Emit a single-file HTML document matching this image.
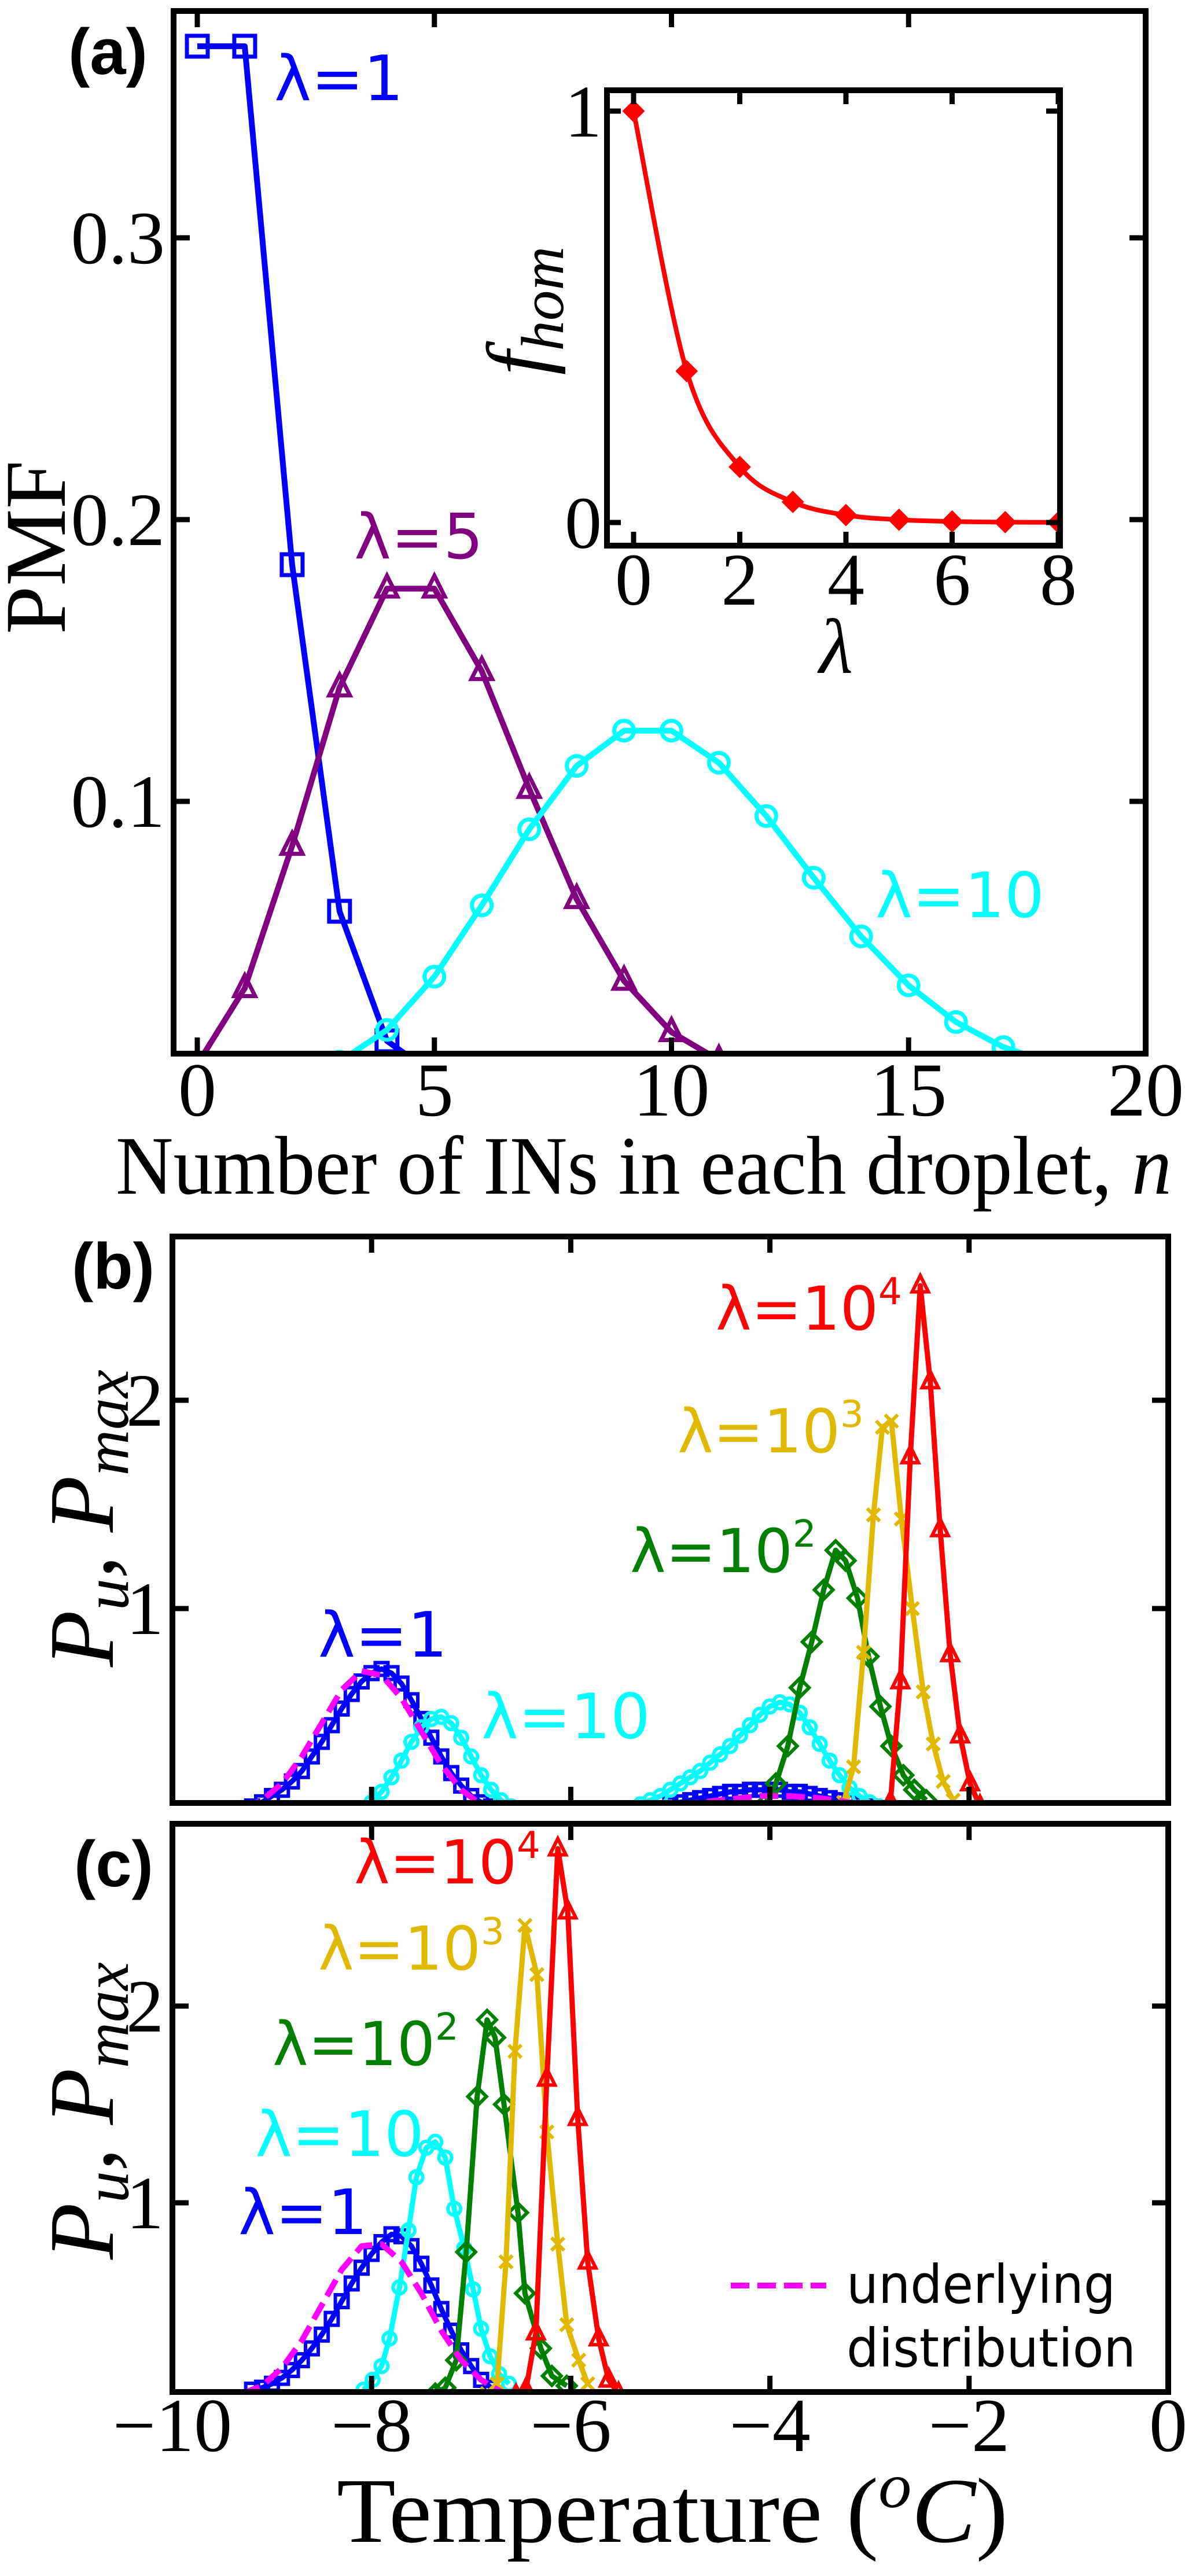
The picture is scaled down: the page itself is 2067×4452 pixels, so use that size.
<!DOCTYPE html>
<html><head><meta charset="utf-8">
<style>
html,body{margin:0;padding:0;background:#fff;}
svg{display:block;}
.serif{font-family:"Liberation Serif",serif;}
.sans{font-family:"DejaVu Sans","Liberation Sans",sans-serif;}
</style></head>
<body>
<svg id="fig" width="2067" height="4452" viewBox="0 0 2067 4452" xmlns="http://www.w3.org/2000/svg">
<defs>
<clipPath id="clipA"><rect x="300" y="19" width="1680" height="1802"/></clipPath>
<clipPath id="clipIn"><rect x="1049" y="156" width="783" height="787"/></clipPath>
<clipPath id="clipB"><rect x="298" y="2137" width="1721" height="979"/></clipPath>
<clipPath id="clipC"><rect x="298" y="3152" width="1721" height="982"/></clipPath>
</defs>
<g id="layer"></g>

<text x="118" y="128" font-family="Liberation Sans, sans-serif" font-weight="bold" font-size="112">(a)</text>
<text x="124" y="2227" font-family="Liberation Sans, sans-serif" font-weight="bold" font-size="112">(b)</text>
<text x="128" y="3260" font-family="Liberation Sans, sans-serif" font-weight="bold" font-size="112">(c)</text>

<text class="serif" transform="translate(112,946) rotate(-90)" text-anchor="middle" font-size="150">PMF</text>
<text class="serif" x="200" y="2063" font-size="144" textLength="1825" lengthAdjust="spacingAndGlyphs">Number of INs in each droplet, <tspan font-style="italic">n</tspan></text>

<text class="serif" transform="translate(945,537) rotate(-90)" text-anchor="middle" font-size="150" font-style="italic">f<tspan font-size="105" dy="28">hom</tspan></text>
<text class="serif" x="1445" y="1163" text-anchor="middle" font-size="135" font-style="italic">λ</text>

<text class="serif" transform="translate(195,2624) rotate(-90)" text-anchor="middle" font-size="160" font-style="italic">P<tspan font-size="110" dy="26">u</tspan><tspan dy="-26">, P</tspan><tspan font-size="110" dy="26">max</tspan></text>
<text class="serif" transform="translate(195,3648) rotate(-90)" text-anchor="middle" font-size="160" font-style="italic">P<tspan font-size="110" dy="26">u</tspan><tspan dy="-26">, P</tspan><tspan font-size="110" dy="26">max</tspan></text>
<text class="serif" x="1162" y="4393" text-anchor="middle" font-size="160" textLength="1160" lengthAdjust="spacingAndGlyphs">Temperature (<tspan font-style="italic" font-size="110" dy="-60">o</tspan><tspan font-style="italic" dy="60">C</tspan>)</text>

<text class="sans" x="474" y="173" font-size="108" fill="#0000ff">λ=1</text>
<text class="sans" x="612" y="965" font-size="108" fill="#800080">λ=5</text>
<text class="sans" x="1513" y="1585" font-size="108" fill="#00ffff">λ=10</text>

<text class="sans" x="1237" y="2298" font-size="104" fill="#ff0000">λ=10<tspan font-size="64" dy="-44">4</tspan></text>
<text class="sans" x="1171" y="2510" font-size="104" fill="#e0b800">λ=10<tspan font-size="64" dy="-44">3</tspan></text>
<text class="sans" x="1089" y="2717" font-size="104" fill="#007f00">λ=10<tspan font-size="64" dy="-44">2</tspan></text>
<text class="sans" x="550" y="2863" font-size="108" fill="#0000ff">λ=1</text>
<text class="sans" x="832" y="3004" font-size="108" fill="#00ffff">λ=10</text>

<text class="sans" x="612" y="3255" font-size="104" fill="#ff0000">λ=10<tspan font-size="64" dy="-44">4</tspan></text>
<text class="sans" x="550" y="3404" font-size="104" fill="#e0b800">λ=10<tspan font-size="64" dy="-44">3</tspan></text>
<text class="sans" x="471" y="3569" font-size="104" fill="#007f00">λ=10<tspan font-size="64" dy="-44">2</tspan></text>
<text class="sans" x="441" y="3726" font-size="108" fill="#00ffff">λ=10</text>
<text class="sans" x="412" y="3861" font-size="108" fill="#0000ff">λ=1</text>

<g>
<line x1="1263" y1="3950" x2="1428" y2="3950" stroke="#ff00ff" stroke-width="10" stroke-dasharray="32,14"/>
<text class="sans" x="1463" y="3980" font-size="92" textLength="465" lengthAdjust="spacingAndGlyphs">underlying</text>
<text class="sans" x="1463" y="4090" font-size="92" textLength="500" lengthAdjust="spacingAndGlyphs">distribution</text>
</g>
</svg>

<script>
// ---------- data ----------
const nA = [0,1,2,3,4,5,6,7,8,9,10,11,12,13,14,15,16,17,18,19];
const pmfL1 = [0.368,0.368,0.184,0.061,0.015,0.003,0.0005,0,0,0,0,0,0,0,0,0,0,0,0,0];
const pmfL5 = [0.0067,0.0337,0.0842,0.1404,0.1755,0.1755,0.1462,0.1044,0.0653,0.0363,0.0181,0.0082,0.0034,0.0013,0,0,0,0,0,0];
const pmfL10 = [0.00005,0.0005,0.0023,0.0076,0.0189,0.0378,0.0631,0.0901,0.1126,0.1251,0.1251,0.1137,0.0948,0.0729,0.0521,0.0347,0.0217,0.0128,0.0071,0.0037];
const lamIn = [0,1,2,3,4,5,6,7,8];
const fhom = [1,0.368,0.135,0.050,0.018,0.0067,0.0025,0.0009,0.0003];

const bMagX = [-9.3,-9.1,-8.9,-8.7,-8.5,-8.3,-8.1,-7.9,-7.7,-7.5,-7.3,-7.1,-6.9,-6.7];
const bMagY = [0.04,0.08,0.16,0.29,0.45,0.61,0.70,0.68,0.57,0.41,0.25,0.13,0.06,0.02];
const bMag2X = [-4.9,-4.5,-4.1,-3.8,-3.5,-3.2,-3.0];
const bMag2Y = [0.06,0.08,0.10,0.10,0.09,0.07,0.05];
const bBlueX = [-9.2,-9.1,-9.0,-8.9,-8.8,-8.7,-8.6,-8.5,-8.4,-8.3,-8.2,-8.1,-8.0,-7.9,-7.8,-7.7,-7.6,-7.5,-7.4,-7.3,-7.2,-7.1,-7.0,-6.9,-6.8];
const bBlueY = [0.05,0.07,0.1,0.13,0.17,0.22,0.29,0.36,0.44,0.52,0.59,0.65,0.69,0.71,0.69,0.64,0.56,0.47,0.38,0.29,0.21,0.15,0.1,0.07,0.05];
const bBlue2X = [-5.0,-4.9,-4.8,-4.7,-4.6,-4.5,-4.4,-4.3,-4.2,-4.1,-4.0,-3.9,-3.8,-3.7,-3.6,-3.5,-3.4,-3.3,-3.2,-3.1,-3.0];
const bBlue2Y = [0.06,0.07,0.08,0.09,0.10,0.11,0.12,0.12,0.13,0.13,0.13,0.13,0.12,0.12,0.11,0.10,0.09,0.08,0.07,0.06,0.05];
const bCyanX = [-8.0,-7.9,-7.8,-7.7,-7.6,-7.5,-7.4,-7.3,-7.2,-7.1,-7.0,-6.9,-6.8,-6.7,-6.6];
const bCyanY = [0.07,0.12,0.19,0.27,0.36,0.43,0.47,0.48,0.45,0.38,0.29,0.2,0.13,0.08,0.05];
const bCyan2X = [-5.3,-5.2,-5.1,-5.0,-4.9,-4.8,-4.7,-4.6,-4.5,-4.4,-4.3,-4.2,-4.1,-4.0,-3.9,-3.8,-3.7,-3.6,-3.5,-3.4,-3.3,-3.2,-3.1,-3.0,-2.9];
const bCyan2Y = [0.06,0.08,0.1,0.13,0.16,0.19,0.22,0.26,0.3,0.34,0.39,0.44,0.49,0.53,0.55,0.54,0.5,0.43,0.35,0.27,0.2,0.14,0.1,0.07,0.05];
const bGreenX = [-4.05,-3.94,-3.82,-3.7,-3.58,-3.46,-3.34,-3.24,-3.12,-3.01,-2.89,-2.78,-2.66,-2.55,-2.43];
const bGreenY = [0.06,0.16,0.34,0.62,0.84,1.09,1.28,1.23,1.05,0.77,0.53,0.34,0.2,0.13,0.08];
const bGoldX = [-3.26,-3.16,-3.06,-2.96,-2.87,-2.78,-2.68,-2.57,-2.46,-2.36,-2.26,-2.16];
const bGoldY = [0.07,0.24,0.79,1.45,1.87,1.9,1.43,1.0,0.6,0.35,0.17,0.08];
const bRedX = [-2.79,-2.69,-2.59,-2.49,-2.39,-2.29,-2.19,-2.09,-1.99,-1.89];
const bRedY = [0.07,0.65,1.73,2.55,2.09,1.38,0.78,0.39,0.16,0.05];

const cMagX = [-9.3,-9.1,-8.9,-8.7,-8.5,-8.3,-8.1,-7.9,-7.7,-7.5,-7.3,-7.1,-6.9,-6.7];
const cMagY = [0.03,0.07,0.16,0.3,0.48,0.66,0.78,0.79,0.7,0.54,0.35,0.2,0.1,0.04];
const cBlueX = [-9.2,-9.1,-9.0,-8.9,-8.8,-8.7,-8.6,-8.5,-8.4,-8.3,-8.2,-8.1,-8.0,-7.9,-7.8,-7.7,-7.6,-7.5,-7.4,-7.3,-7.2,-7.1,-7.0,-6.9,-6.8];
const cBlueY = [0.05,0.06,0.08,0.11,0.15,0.2,0.26,0.33,0.41,0.5,0.59,0.67,0.74,0.8,0.84,0.83,0.78,0.69,0.58,0.46,0.35,0.25,0.17,0.1,0.06];
const cCyanX = [-8.08,-7.99,-7.9,-7.82,-7.72,-7.63,-7.55,-7.45,-7.36,-7.26,-7.17,-7.07,-6.98,-6.9,-6.81,-6.72,-6.62];
const cCyanY = [0.05,0.1,0.17,0.31,0.57,0.86,1.13,1.28,1.31,1.23,0.97,0.77,0.56,0.36,0.22,0.13,0.08];
const cGreenX = [-7.36,-7.26,-7.15,-7.05,-6.94,-6.84,-6.76,-6.67,-6.53,-6.46,-6.3,-6.19,-6.04];
const cGreenY = [0.03,0.06,0.2,0.75,1.54,1.93,1.84,1.5,0.95,0.54,0.26,0.12,0.07];
const cGoldX = [-6.84,-6.74,-6.65,-6.56,-6.46,-6.34,-6.24,-6.13,-6.04,-5.92,-5.83];
const cGoldY = [0.03,0.08,0.7,1.77,2.41,2.16,1.36,0.79,0.38,0.2,0.08];
const cRedX = [-6.55,-6.45,-6.35,-6.24,-6.13,-6.03,-5.93,-5.83,-5.72,-5.62,-5.52];
const cRedY = [0.02,0.05,0.34,1.63,2.8,2.48,1.43,0.7,0.31,0.1,0.03];

const aXTicks = [0,5,10,15,20];
const aYTicks = [0.1,0.2,0.3];
const aYTickLabels = ["0.1","0.2","0.3"];
const inXTicks = [0,2,4,6,8];
const inYTicks = [0,1];
const tXTicks = [-10,-8,-6,-4,-2,0];
const tXTickLabels = ["−10","−8","−6","−4","−2","0"];
const pYTicks = [1,2];

// ---------- helpers ----------
const NS = "http://www.w3.org/2000/svg";
const layer = document.getElementById("layer");
function mk(tag, attrs, parent){
  const e = document.createElementNS(NS, tag);
  for (const k in attrs) e.setAttribute(k, attrs[k]);
  (parent||layer).appendChild(e);
  return e;
}
function lin(d0,d1,r0,r1){ return v => r0 + (v-d0)*(r1-r0)/(d1-d0); }

const axA = {x: lin(0,20,341,1980), y: lin(0.1,0.3,1385,411), L:300,R:1980,T:19,B:1821};
const axIn = {x: lin(0,8,1095,1829), y: lin(0,1,903,192), L:1049,R:1832,T:156,B:943};
const axB = {x: lin(-10,0,298,2019), y: lin(1,2,2780,2420), L:298,R:2019,T:2137,B:3116};
const axC = {x: lin(-10,0,298,2019), y: lin(1,2,3807,3467), L:298,R:2019,T:3152,B:4134};

function frame(ax, name){
  const r = mk("rect",{x:ax.L,y:ax.T,width:ax.R-ax.L,height:ax.B-ax.T,fill:"none",stroke:"#000","stroke-width":10});
  
  
}
function xticks(ax, vals, labels, fs, base, len, name){
  vals.forEach((v,i)=>{
    const x = ax.x(v);
    const t1 = mk("line",{x1:x,y1:ax.B,x2:x,y2:ax.B-len,stroke:"#000","stroke-width":9});
    
    
    const t2 = mk("line",{x1:x,y1:ax.T,x2:x,y2:ax.T+len,stroke:"#000","stroke-width":9});
    
    
    if (labels){
      const t = mk("text",{x:x,y:base,"text-anchor":"middle","font-size":fs,"font-family":"Liberation Serif, serif"});
      t.textContent = labels[i];
      
      
    }
  });
}
function yticks(ax, vals, labels, fs, rightX, dy, len, name){
  vals.forEach((v,i)=>{
    const y = ax.y(v);
    const t1 = mk("line",{x1:ax.L,y1:y,x2:ax.L+len,y2:y,stroke:"#000","stroke-width":9});
    
    
    const t2 = mk("line",{x1:ax.R,y1:y,x2:ax.R-len,y2:y,stroke:"#000","stroke-width":9});
    
    
    const t = mk("text",{x:rightX,y:y+dy,"text-anchor":"end","font-size":fs,"font-family":"Liberation Serif, serif"});
    t.textContent = labels[i];
    
    
  });
}
function marker(g, type, x, y, s, color, mw){
  let e;
  if (type==="square") e = mk("rect",{x:x-s/2,y:y-s/2,width:s,height:s,fill:"none",stroke:color,"stroke-width":mw},g);
  else if (type==="circle") e = mk("circle",{cx:x,cy:y,r:s/2,fill:"none",stroke:color,"stroke-width":mw},g);
  else if (type==="tri") e = mk("polygon",{points:`${x},${y-s*0.62} ${x-s/2},${y+s*0.38} ${x+s/2},${y+s*0.38}`,fill:"none",stroke:color,"stroke-width":mw},g);
  else if (type==="diamond") e = mk("polygon",{points:`${x},${y-s/2} ${x+s/2},${y} ${x},${y+s/2} ${x-s/2},${y}`,fill:"none",stroke:color,"stroke-width":mw},g);
  else if (type==="fdiamond") e = mk("polygon",{points:`${x},${y-s/2} ${x+s/2},${y} ${x},${y+s/2} ${x-s/2},${y}`,fill:color,stroke:color,"stroke-width":2},g);
  else if (type==="x") e = mk("path",{d:`M${x-s/2},${y-s/2}L${x+s/2},${y+s/2}M${x-s/2},${y+s/2}L${x+s/2},${y-s/2}`,fill:"none",stroke:color,"stroke-width":mw},g);
  
  
}
function series(ax, clip, xs, ys, color, mtype, msize, name, opts){
  opts = opts||{};
  const g = mk("g",{"clip-path":`url(#${clip})`});
  
  
  const pts = xs.map((v,i)=>[ax.x(v), ax.y(ys[i])]);
  let d;
  if (opts.smooth){
    d = "M"+pts[0][0]+","+pts[0][1];
    for (let i=0;i<pts.length-1;i++){
      const p0=pts[Math.max(0,i-1)],p1=pts[i],p2=pts[i+1],p3=pts[Math.min(pts.length-1,i+2)];
      const c1=[p1[0]+(p2[0]-p0[0])/6,p1[1]+(p2[1]-p0[1])/6];
      const c2=[p2[0]-(p3[0]-p1[0])/6,p2[1]-(p3[1]-p1[1])/6];
      d += `C${c1[0]},${c1[1]} ${c2[0]},${c2[1]} ${p2[0]},${p2[1]}`;
    }
  } else d = "M"+pts.map(p=>p.join(",")).join("L");
  const path = mk("path",{d:d,fill:"none",stroke:color,"stroke-width":opts.sw||9,"stroke-linejoin":"round"},g);
  if (opts.dash) path.setAttribute("stroke-dasharray", opts.dash);
  
  
  if (mtype) pts.forEach(p=>{ if (p[1] < ax.B+40) marker(g, mtype, p[0], p[1], msize, color, opts.mw||6); });
}

// ---------- panel a ----------
series(axA,"clipA",nA,pmfL1,"#0000ff","square",36,"series-a-lambda-1",{sw:10,mw:7});
series(axA,"clipA",nA,pmfL5,"#800080","tri",36,"series-a-lambda-5",{sw:10,mw:7});
series(axA,"clipA",nA,pmfL10,"#00ffff","circle",34,"series-a-lambda-10",{sw:10,mw:7});
frame(axA,"panel-a-frame");
xticks(axA,aXTicks,aXTicks.map(String),132,1928,28,"a-x");
yticks(axA,aYTicks,aYTickLabels,130,285,44,28,"a-y");

// inset
mk("rect",{x:axIn.L,y:axIn.T,width:axIn.R-axIn.L,height:axIn.B-axIn.T,fill:"#fff",stroke:"none"});
series(axIn,"clipIn",lamIn,fhom,"#ff0000","fdiamond",36,"series-fhom",{smooth:true,sw:8});
frame(axIn,"inset-frame");
xticks(axIn,inXTicks,inXTicks.map(String),128,1045,24,"inset-x");
yticks(axIn,inYTicks,inYTicks.map(String),128,1040,44,24,"inset-y");

// ---------- panel b ----------
series(axB,"clipB",bBlueX,bBlueY,"#0000ff","square",22,"series-b-lambda-1");
series(axB,"clipB",bBlue2X,bBlue2Y,"#0000ff","square",22,"series-b-lambda-1-right");
series(axB,"clipB",bCyanX,bCyanY,"#00ffff","circle",22,"series-b-lambda-10");
series(axB,"clipB",bCyan2X,bCyan2Y,"#00ffff","circle",22,"series-b-lambda-10-right");
series(axB,"clipB",bGreenX,bGreenY,"#007f00","diamond",32,"series-b-lambda-1e2");
series(axB,"clipB",bGoldX,bGoldY,"#e0b800","x",22,"series-b-lambda-1e3");
series(axB,"clipB",bRedX,bRedY,"#ff0000","tri",28,"series-b-lambda-1e4");
series(axB,"clipB",bMagX,bMagY,"#ff00ff",null,0,"series-b-underlying",{dash:"32,14",sw:10});
series(axB,"clipB",bMag2X,bMag2Y,"#ff00ff",null,0,"series-b-underlying-right",{dash:"32,14",sw:10});
frame(axB,"panel-b-frame");
xticks(axB,tXTicks,null,0,0,28,"b-x");
yticks(axB,pYTicks,pYTicks.map(String),130,283,44,28,"b-y");

// ---------- panel c ----------
series(axC,"clipC",cBlueX,cBlueY,"#0000ff","square",22,"series-c-lambda-1");
series(axC,"clipC",cCyanX,cCyanY,"#00ffff","circle",22,"series-c-lambda-10");
series(axC,"clipC",cGreenX,cGreenY,"#007f00","diamond",32,"series-c-lambda-1e2");
series(axC,"clipC",cGoldX,cGoldY,"#e0b800","x",22,"series-c-lambda-1e3");
series(axC,"clipC",cRedX,cRedY,"#ff0000","tri",28,"series-c-lambda-1e4");
series(axC,"clipC",cMagX,cMagY,"#ff00ff",null,0,"series-c-underlying",{dash:"32,14",sw:10});
frame(axC,"panel-c-frame");
xticks(axC,tXTicks,tXTickLabels,132,4236,28,"c-x");
yticks(axC,pYTicks,pYTicks.map(String),130,283,44,28,"c-y");
</script>
</body></html>
